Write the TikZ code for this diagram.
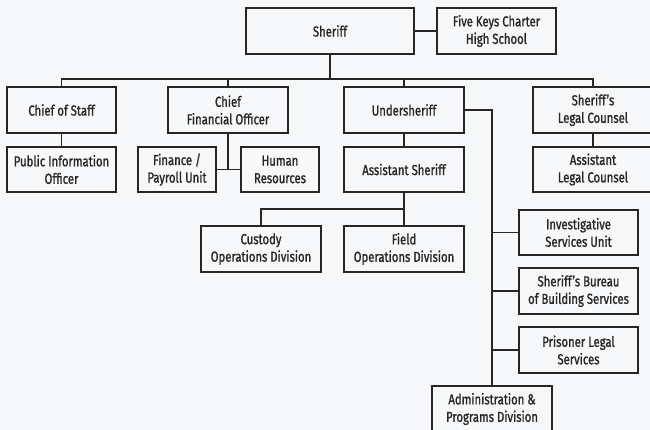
\documentclass[tikz,border=0pt]{standalone}
\usepackage{fontspec}
\setmainfont{Fira Sans}[FakeStretch=0.78, FakeBold=1.2]
\usepackage{xcolor}
\definecolor{pagebg}{HTML}{F7F8FA}
\definecolor{ink}{HTML}{262626}
\usetikzlibrary{positioning,calc}

\begin{document}
\begin{tikzpicture}[x=1pt, y=-1pt, line width=1.3pt, draw=ink,
  unit/.style={draw=ink, fill=pagebg, line width=1.3pt, minimum height=46pt, minimum width=120pt, inner sep=1pt,
    font=\fontsize{14.5}{17.5}\selectfont, text=ink, align=center}]
\useasboundingbox[fill=pagebg] (0,0) rectangle (650,430);
% top
\node[unit, minimum width=168pt] (sheriff) at (330,31) {Sheriff};
\node[unit, minimum width=119pt] (keys) at (496.5,31) {Five Keys Charter\\High School};
% second row
\node[unit, minimum width=109pt] (cos) at (61.5,110) {Chief of Staff};
\node[unit] (cfo) at (228,110) {Chief\\Financial Officer};
\node[unit] (under) at (404,110) {Undersheriff};
\node[unit] (legal) at (593,110) {Sheriff’s\\Legal Counsel};
% third row
\node[unit, minimum width=109pt, minimum height=45pt] (pio) at (61.5,169.5) {Public Information\\Officer};
\node[unit, minimum width=78pt, minimum height=45pt] (fin) at (177,169.5) {Finance /\\Payroll Unit};
\node[unit, minimum width=78pt, minimum height=45pt] (hr) at (280,169.5) {Human\\Resources};
\node[unit, minimum height=45pt] (asst) at (404,169.5) {Assistant Sheriff};
\node[unit, minimum height=45pt] (alc) at (593,169.5) {Assistant\\Legal Counsel};
% divisions
\node[unit] (custody) at (261,249) {Custody\\Operations Division};
\node[unit] (field) at (404,249) {Field\\Operations Division};
\node[unit, minimum width=119pt, minimum height=45pt] (inv) at (578.5,232.5) {Investigative\\Services Unit};
\node[unit, minimum width=119pt] (bureau) at (578.5,291) {Sheriff’s Bureau\\of Building Services};
\node[unit, minimum width=119pt] (prisoner) at (578.5,350) {Prisoner Legal\\Services};
\node[unit] (admin) at (492,409) {Administration \&\\Programs Division};
% connectors
\coordinate (bus) at (0,79);
\coordinate (abus) at (0,209);
\draw (sheriff.east) -- (keys.west);
\draw (sheriff.south) -- (sheriff.south |- bus);
\draw (cos.north) |- (bus -| legal.north) -- (legal.north);
\draw (cfo.north) -- (cfo.north |- bus);
\draw (under.north) -- (under.north |- bus);
\draw (cos) -- (pio);
\draw (cfo.south) -- (cfo.south |- fin.east);
\draw (fin.east) -- (hr.west);
\draw (under) -- (asst);
\draw (legal) -- (alc);
\draw (asst) -- (field);
\draw (custody.north) |- (abus -| field.north);
\draw (under.east) -| (admin.north);
\draw (inv.west) -- (inv.west -| admin.north);
\draw (bureau.west) -- (bureau.west -| admin.north);
\draw (prisoner.west) -- (prisoner.west -| admin.north);
\end{tikzpicture}
\end{document}
